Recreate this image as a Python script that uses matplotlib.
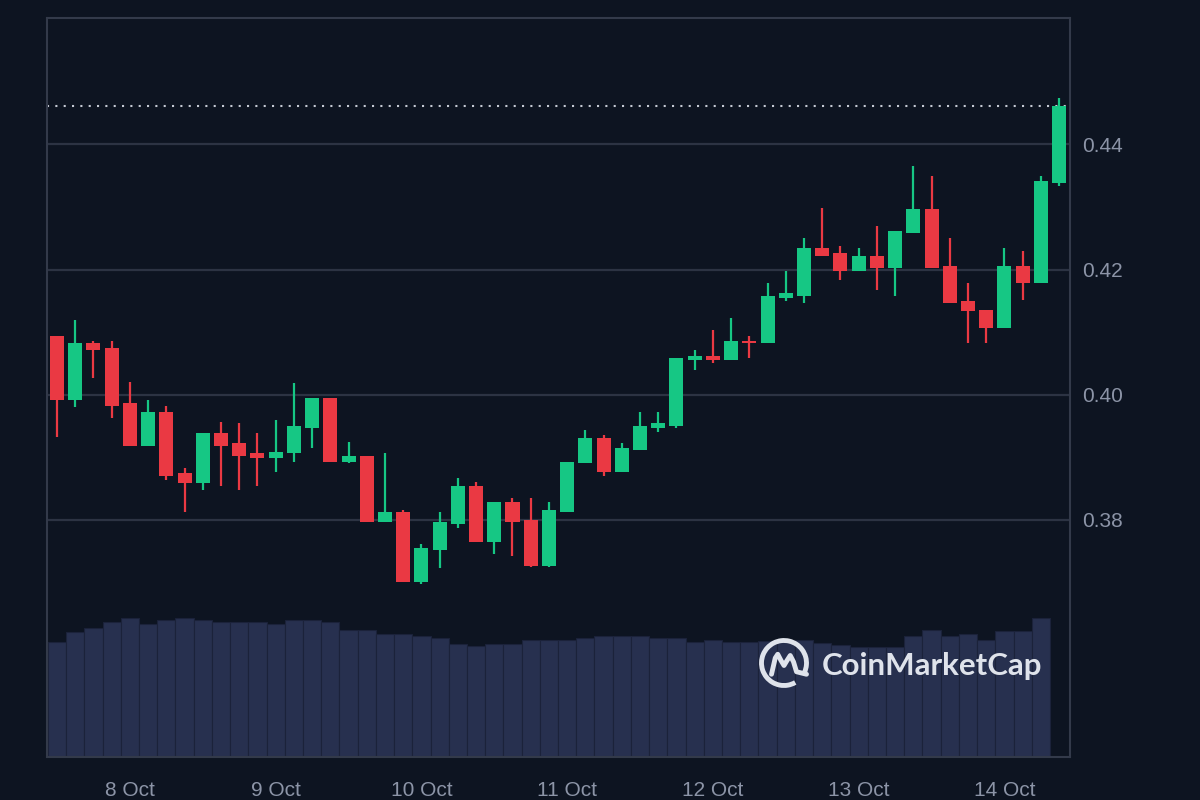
import matplotlib.pyplot as plt
import numpy as np
import pandas as pd
from matplotlib.patches import Arc
from matplotlib.path import Path
from matplotlib.patches import PathPatch

# 3-hour candles, 7 Oct 12:00 -> 14 Oct 09:00
times = pd.date_range("2023-10-07 12:00", periods=56, freq="3h")

opens = [0.4094, 0.3992, 0.4082, 0.4075, 0.3986, 0.3918, 0.3973, 0.3874,
         0.3858, 0.3938, 0.3922, 0.3906, 0.3899, 0.3906, 0.3947, 0.3995,
         0.3893, 0.3902, 0.3797, 0.3813, 0.3701, 0.3752, 0.3794, 0.3854,
         0.3765, 0.3829, 0.3800, 0.3726, 0.3813, 0.3890, 0.3931, 0.3877,
         0.3912, 0.3947, 0.3950, 0.4056, 0.4062, 0.4056, 0.4086, 0.4082,
         0.4155, 0.4158, 0.4235, 0.4226, 0.4197, 0.4222, 0.4203, 0.4258,
         0.4296, 0.4206, 0.4149, 0.4136, 0.4107, 0.4206, 0.4178, 0.4338]
highs = [0.4094, 0.4120, 0.4085, 0.4085, 0.4021, 0.3992, 0.3982, 0.3883,
         0.3938, 0.3957, 0.3954, 0.3938, 0.3960, 0.4018, 0.3995, 0.3995,
         0.3925, 0.3902, 0.3906, 0.3816, 0.3762, 0.3813, 0.3867, 0.3861,
         0.3829, 0.3835, 0.3835, 0.3829, 0.3893, 0.3944, 0.3936, 0.3922,
         0.3973, 0.3973, 0.4059, 0.4072, 0.4104, 0.4123, 0.4094, 0.4178,
         0.4197, 0.4251, 0.4299, 0.4238, 0.4235, 0.4270, 0.4261, 0.4366,
         0.4350, 0.4251, 0.4178, 0.4136, 0.4235, 0.4229, 0.4350, 0.4475]
lows = [0.3933, 0.3980, 0.4027, 0.3963, 0.3918, 0.3918, 0.3864, 0.3813,
        0.3848, 0.3854, 0.3848, 0.3854, 0.3877, 0.3893, 0.3915, 0.3893,
        0.3891, 0.3797, 0.3797, 0.3701, 0.3698, 0.3723, 0.3787, 0.3765,
        0.3746, 0.3742, 0.3725, 0.3724, 0.3813, 0.3890, 0.3870, 0.3877,
        0.3912, 0.3941, 0.3947, 0.4040, 0.4050, 0.4056, 0.4059, 0.4082,
        0.4149, 0.4146, 0.4222, 0.4184, 0.4197, 0.4168, 0.4158, 0.4258,
        0.4203, 0.4146, 0.4082, 0.4082, 0.4107, 0.4152, 0.4178, 0.4334]
closes = [0.3992, 0.4082, 0.4072, 0.3982, 0.3918, 0.3973, 0.3870, 0.3858,
          0.3938, 0.3918, 0.3902, 0.3899, 0.3909, 0.3950, 0.3995, 0.3893,
          0.3902, 0.3797, 0.3813, 0.3701, 0.3755, 0.3797, 0.3854, 0.3765,
          0.3829, 0.3797, 0.3726, 0.3816, 0.3893, 0.3931, 0.3877, 0.3915,
          0.3950, 0.3954, 0.4059, 0.4062, 0.4056, 0.4085, 0.4083, 0.4158,
          0.4162, 0.4235, 0.4222, 0.4197, 0.4222, 0.4203, 0.4261, 0.4296,
          0.4203, 0.4146, 0.4133, 0.4107, 0.4206, 0.4178, 0.4341, 0.4462]
# volume (millions), last candle has no bar yet
volume = [114.7, 124.7, 128.7, 134.7, 138.7, 132.7, 136.7, 138.7, 136.7,
          134.7, 134.7, 134.7, 132.7, 136.7, 136.7, 134.7, 126.7, 126.7,
          122.7, 122.7, 120.7, 118.7, 112.7, 110.7, 112.7, 112.7, 117.0,
          117.0, 117.0, 119.3, 121.0, 121.0, 121.0, 119.3, 119.3, 114.7,
          117.0, 115.3, 115.3, 116.0, 116.0, 117.0, 114.0, 112.0, 110.3,
          110.3, 110.3, 121.0, 127.0, 121.0, 122.7, 117.0, 126.3, 126.3,
          138.7]

bg = "#0d1421"
up_col = "#16c784"
down_col = "#ea3943"
txt_col = "#8c94a7"
line_col = "#2c3343"

opens = np.array(opens)
closes = np.array(closes)
x = np.arange(len(opens))
colors = np.where(closes >= opens, up_col, down_col)

fig = plt.figure(figsize=(12, 8), dpi=100, facecolor=bg)
rect = [47 / 1200, 43 / 800, 1023 / 1200, 739 / 800]

# volume panel behind the price axes
axv = fig.add_axes(rect, zorder=0)
axv.set_facecolor(bg)
axv.bar(np.arange(len(volume)), volume, width=1.0, color="#27304f",
        edgecolor="#1b223a", linewidth=0.8)
axv.set_ylim(0, max(volume) * 5.33)
axv.set_xlim(-0.55, 55.6)
axv.axis("off")

ax = fig.add_axes(rect, zorder=1)
ax.set_facecolor("none")

# candles
ax.vlines(x, lows, highs, color=colors, linewidth=1.6, zorder=3)
body_bottom = np.minimum(opens, closes)
body_h = np.maximum(np.abs(closes - opens), 0.00025)
ax.bar(x, body_h, bottom=body_bottom, width=0.77, color=colors, linewidth=0, zorder=4)

# last price line
ax.axhline(closes[-1], color="#c5cad4", linestyle=(0, (1, 3)), linewidth=1.5, zorder=2)

ax.set_xlim(-0.55, 55.6)
ax.set_ylim(0.34208, 0.46021)

ax.yaxis.tick_right()
ax.set_yticks([0.38, 0.40, 0.42, 0.44])
ax.set_yticklabels(["0.38", "0.40", "0.42", "0.44"])
day_idx = [i for i, t in enumerate(times) if t.hour == 0]
ax.set_xticks(day_idx)
ax.set_xticklabels([f"{times[i].day} Oct" for i in day_idx])
ax.tick_params(axis="both", length=0, colors=txt_col, labelsize=15)
ax.tick_params(axis="y", pad=9)
ax.tick_params(axis="x", pad=17)
for lab in ax.get_xticklabels() + ax.get_yticklabels():
    lab.set_family("Liberation Sans")

ax.grid(axis="y", color=line_col, linewidth=1.6, zorder=1)
for s in ax.spines.values():
    s.set_color("#333a4a")
    s.set_linewidth(1.5)

# CoinMarketCap watermark
logo_col = "#dfe3eb"
fig.text(822 / 1200, 125 / 800, "CoinMarketCap", color=logo_col, fontsize=22.5,
         fontweight="bold", family="Lato", va="baseline", ha="left", zorder=5)
axl = fig.add_axes([759 / 1200, 112 / 800, 50 / 1200, 50 / 800], zorder=5)
axl.set_xlim(-1, 1)
axl.set_ylim(-1, 1)
axl.axis("off")
axl.add_patch(Arc((0, 0), 1.8, 1.8, theta1=-25, theta2=300, color=logo_col, lw=3.5))
verts = [(-0.5, -0.45), (-0.35, 0.2), (-0.25, 0.35), (-0.12, 0.1),
         (0.0, -0.1), (0.12, 0.1), (0.25, 0.3), (0.38, 0.05),
         (0.5, -0.35), (0.7, -0.4), (0.9, -0.45)]
codes = [Path.MOVETO] + [Path.LINETO] * (len(verts) - 1)
axl.add_patch(PathPatch(Path(verts, codes), fill=False, edgecolor=logo_col, lw=3.5,
                        joinstyle="round", capstyle="round"))

fig.savefig("out.png", dpi=100, facecolor=bg)
